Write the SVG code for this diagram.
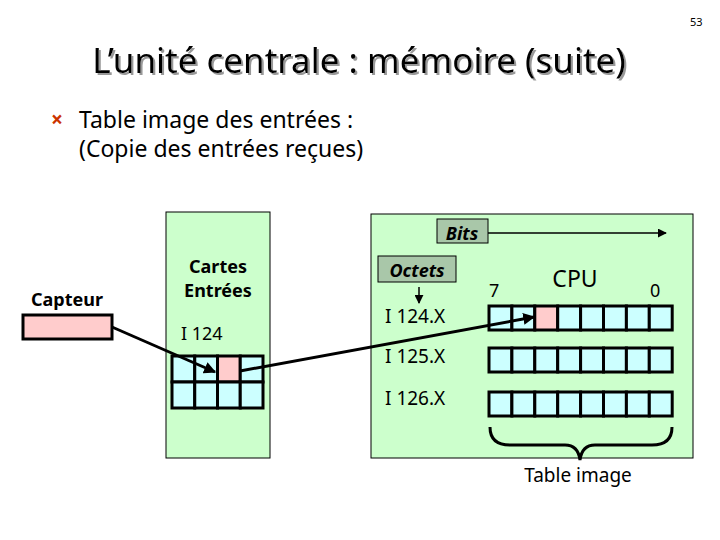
<svg xmlns="http://www.w3.org/2000/svg" width="720" height="540" viewBox="0 0 720 540">
<style>
text{font-family:"Noto Sans","DejaVu Sans",sans-serif;fill:#000}
.panel{fill:#ccffcc;stroke:#000;stroke-width:1}
.cell{fill:#ccffff;stroke:#000;stroke-width:3}
.hot{fill:#ffcccc}
.tag{fill:#a9c7a9;stroke:#000;stroke-width:1}
.lbl{font-size:18px}
.b{font-weight:bold}
.bi{font-weight:bold;font-style:italic}
.wire{stroke:#000;stroke-width:3;fill:none}
.thin{stroke:#000;stroke-width:1.5;fill:none}
</style>
<defs>
<filter id="shadow" x="-5%" y="-20%" width="110%" height="150%"><feDropShadow dx="2" dy="2" stdDeviation="0.4" flood-color="#999"/></filter>
<marker id="ah" viewBox="0 0 10 10" refX="9" refY="5" markerWidth="4" markerHeight="4" orient="auto"><path d="M0,0L10,5L0,10z" fill="#000"/></marker>
<marker id="ahs" viewBox="0 0 10 10" refX="9" refY="5" markerWidth="6" markerHeight="6" orient="auto"><path d="M0,0L10,5L0,10z" fill="#000"/></marker>
</defs>
<rect width="720" height="540" fill="#fff"/>
<text x="690" y="26" font-size="11" font-family="Liberation Sans Narrow, Liberation Sans, sans-serif">53</text>
<g id="title">
<text x="359" y="73" font-size="35" text-anchor="middle" filter="url(#shadow)">L’unité centrale : mémoire (suite)</text>
</g>
<g id="bullet">
<text x="51" y="127" font-size="21" style="fill:#cc3300;font-weight:bold">×</text>
<text x="79" y="128" font-size="23">Table image des entrées :</text>
<text x="79" y="157" font-size="23">(Copie des entrées reçues)</text>
</g>
<g id="capteur">
<text x="67" y="306" class="lbl b" text-anchor="middle">Capteur</text>
<rect x="23" y="315" width="89" height="24" class="hot" stroke="#000" stroke-width="3"/>
</g>
<g id="cartes">
<rect x="166" y="212" width="104" height="246" class="panel"/>
<text x="218" y="273" class="lbl b" text-anchor="middle">Cartes</text>
<text x="218" y="297" class="lbl b" text-anchor="middle">Entrées</text>
<text x="181" y="340" class="lbl">I 124</text>
<rect x="172" y="356" width="22.75" height="26" class="cell"/>
<rect x="194.75" y="356" width="22.75" height="26" class="cell"/>
<rect x="217.5" y="356" width="22.75" height="26" class="cell hot"/>
<rect x="240.25" y="356" width="22.75" height="26" class="cell"/>
<rect x="172" y="382" width="22.75" height="26" class="cell"/>
<rect x="194.75" y="382" width="22.75" height="26" class="cell"/>
<rect x="217.5" y="382" width="22.75" height="26" class="cell"/>
<rect x="240.25" y="382" width="22.75" height="26" class="cell"/>
</g>
<g id="memoire">
<rect x="371" y="214" width="322" height="244" class="panel"/>
<rect x="437" y="219" width="51" height="24" class="tag"/>
<text x="462" y="240" class="lbl bi" text-anchor="middle">Bits</text>
<rect x="378" y="256" width="78" height="26" class="tag"/>
<text x="417" y="277" class="lbl bi" text-anchor="middle">Octets</text>
<text x="385" y="323" font-size="19">I 124.X</text>
<text x="385" y="363" font-size="19">I 125.X</text>
<text x="385" y="405" font-size="19">I 126.X</text>
<text x="489" y="297" class="lbl">7</text>
<text x="575" y="287" font-size="23" text-anchor="middle">CPU</text>
<text x="650" y="297" class="lbl">0</text>
<text x="578" y="482" font-size="19" text-anchor="middle">Table image</text>
<g id="reg1">
<rect x="489" y="306" width="22.9" height="24" class="cell"/>
<rect x="511.9" y="306" width="22.9" height="24" class="cell"/>
<rect x="534.8" y="306" width="22.9" height="24" class="cell hot"/>
<rect x="557.7" y="306" width="22.9" height="24" class="cell"/>
<rect x="580.6" y="306" width="22.9" height="24" class="cell"/>
<rect x="603.5" y="306" width="22.9" height="24" class="cell"/>
<rect x="626.4" y="306" width="22.9" height="24" class="cell"/>
<rect x="649.3" y="306" width="22.9" height="24" class="cell"/>
</g>
<g id="reg2">
<rect x="489" y="348" width="22.9" height="24" class="cell"/>
<rect x="511.9" y="348" width="22.9" height="24" class="cell"/>
<rect x="534.8" y="348" width="22.9" height="24" class="cell"/>
<rect x="557.7" y="348" width="22.9" height="24" class="cell"/>
<rect x="580.6" y="348" width="22.9" height="24" class="cell"/>
<rect x="603.5" y="348" width="22.9" height="24" class="cell"/>
<rect x="626.4" y="348" width="22.9" height="24" class="cell"/>
<rect x="649.3" y="348" width="22.9" height="24" class="cell"/>
</g>
<g id="reg3">
<rect x="489" y="392" width="22.9" height="24" class="cell"/>
<rect x="511.9" y="392" width="22.9" height="24" class="cell"/>
<rect x="534.8" y="392" width="22.9" height="24" class="cell"/>
<rect x="557.7" y="392" width="22.9" height="24" class="cell"/>
<rect x="580.6" y="392" width="22.9" height="24" class="cell"/>
<rect x="603.5" y="392" width="22.9" height="24" class="cell"/>
<rect x="626.4" y="392" width="22.9" height="24" class="cell"/>
<rect x="649.3" y="392" width="22.9" height="24" class="cell"/>
</g>
<path d="M490,427 Q490,445 510,445 L565,445 Q578,445 580,460 Q582,445 595,445 L652,445 Q672,445 672,427" class="wire"/>
</g>
<g id="connectors">
<line x1="488" y1="233" x2="666" y2="233" class="thin" marker-end="url(#ahs)"/>
<line x1="419" y1="287" x2="419" y2="303" class="thin" marker-end="url(#ahs)"/>
<line x1="112" y1="327" x2="215" y2="372" class="wire" marker-end="url(#ah)"/>
<line x1="240" y1="371" x2="534" y2="317" class="wire" marker-end="url(#ah)"/>
</g>
</svg>
